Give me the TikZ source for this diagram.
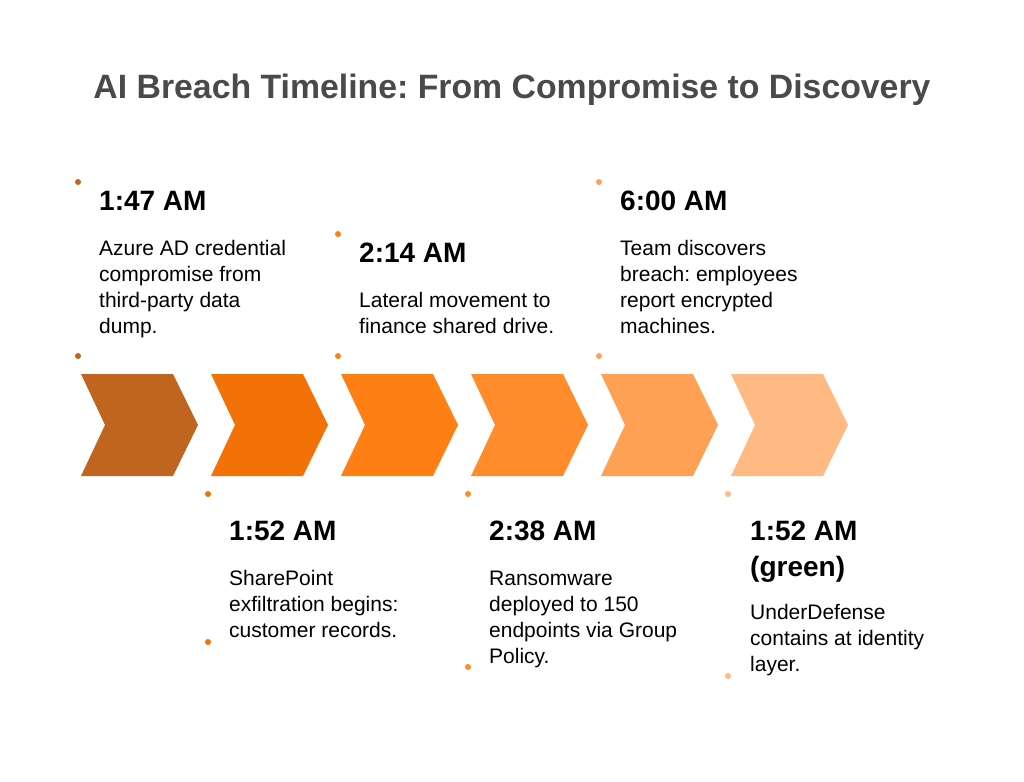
\documentclass[tikz,border=0pt]{standalone}
\usepackage{fontspec}
\setmainfont{Liberation Sans}
\frenchspacing
\definecolor{phaseA}{HTML}{BF6520}
\definecolor{phaseB}{HTML}{F37208}
\definecolor{phaseC}{HTML}{FE8015}
\definecolor{phaseD}{HTML}{FF8B2B}
\definecolor{phaseE}{HTML}{FFA155}
\definecolor{phaseF}{HTML}{FFB982}
\definecolor{titlegray}{HTML}{4A4A4A}
\newcommand{\chevron}[2]{%
  \fill[#2] (#1,374) -- ++(92,0) -- ++(25,51) -- ++(-25,51) -- ++(-92,0) -- ++(24,-51) -- cycle;}
\begin{document}
\begin{tikzpicture}[
  x=1pt, y=-1pt,
  heading/.style={anchor=base, inner sep=0, text=titlegray, font=\bfseries\fontsize{33.8}{36}\selectfont},
  stamp/.style={anchor=base west, inner sep=0, align=left, font=\bfseries\fontsize{28}{36}\selectfont},
  desc/.style={anchor=base west, inner sep=0, align=left, font=\fontsize{21}{26}\selectfont},
  pin/.style={fill=#1}
]
  \useasboundingbox (0,0) rectangle (1024,781);

  \node[heading] (title) at (512,99) {AI Breach Timeline: From Compromise to Discovery};

  % chevrons
  \chevron{81}{phaseA}
  \chevron{211}{phaseB}
  \chevron{341}{phaseC}
  \chevron{471}{phaseD}
  \chevron{601}{phaseE}
  \chevron{731}{phaseF}

  % upper events (base = last line)
  \node[stamp] (t1) at (99,210)  {1:47 AM};
  \node[desc]  (d1) at (99,333)  {Azure AD credential\\compromise from\\third-party data\\dump.};
  \node[stamp] (t3) at (359,262) {2:14 AM};
  \node[desc]  (d3) at (359,333) {Lateral movement to\\finance shared drive.};
  \node[stamp] (t5) at (620,210) {6:00 AM};
  \node[desc]  (d5) at (620,333) {Team discovers\\breach: employees\\report encrypted\\machines.};

  % lower events
  \node[stamp] (t2) at (229,540) {1:52 AM};
  \node[desc]  (d2) at (229,637) {SharePoint\\exfiltration begins:\\customer records.};
  \node[stamp] (t4) at (489,540) {2:38 AM};
  \node[desc]  (d4) at (489,663) {Ransomware\\deployed to 150\\endpoints via Group\\Policy.};
  \node[stamp] (t6) at (750,576) {1:52 AM\\(green)};
  \node[desc]  (d6) at (750,671) {UnderDefense\\contains at identity\\layer.};

  % marker dots
  \fill[phaseA] (78,182) circle (3) (78,356) circle (3);
  \fill[phaseC] (338,234) circle (3) (338,356) circle (3);
  \fill[phaseE] (599,182) circle (3) (599,356) circle (3);
  \fill[phaseB] (208,494) circle (3) (208,642) circle (3);
  \fill[phaseD] (468,494) circle (3) (468,667) circle (3);
  \fill[phaseF] (728,494) circle (3) (728,676) circle (3);
\end{tikzpicture}
\end{document}
